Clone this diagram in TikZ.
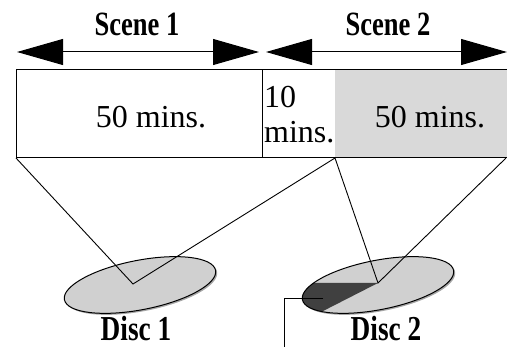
\documentclass[tikz,border=0pt]{standalone}
\usepackage{fontspec}
\setmainfont{Liberation Serif}
\newfontfamily\labelfont[FakeStretch=0.78]{Liberation Serif}
\usetikzlibrary{arrows.meta}
\definecolor{cellgrey}{HTML}{D9D9D9}
\definecolor{discgrey}{HTML}{D0D0D0}
\definecolor{sectorgrey}{HTML}{404040}
\tikzset{
  span/.style={line width=1pt, {Triangle[length=46pt,width=26pt]}-{Triangle[length=46pt,width=26pt]}},
  title/.style={font=\labelfont\bfseries\fontsize{34}{40}\selectfont, inner sep=0pt, text depth=0pt, anchor=base},
  minutes/.style={font=\fontsize{32}{35}\selectfont, inner sep=0pt},
  disc/.style={fill=discgrey},
  rim/.style={draw=black, line width=1pt},
  link/.style={line width=0.9pt}
}
\begin{document}
\begin{tikzpicture}[x=1pt,y=-1pt]
  \useasboundingbox (0,0) rectangle (507,347);
  % scenes
  \coordinate (start1) at (17,52);
  \coordinate (end1) at (259,52);
  \coordinate (start2) at (266,52);
  \coordinate (end2) at (507,52);
  \draw[span] (start1) -- (end1);
  \draw[span] (start2) -- (end2);
  \node[title] (scene1) at (137,36) {Scene 1};
  \node[title] (scene2) at (388,36) {Scene 2};
  % timeline
  \fill[cellgrey] (335,70) rectangle (508,158);
  \draw[line width=1pt] (16,158) -- (16,70) -- (508,70) (16,158) -- (508,158) (262,70) -- (262,158);
  \node[minutes, anchor=base] (first) at (151,128) {50 mins.};
  \node[minutes, anchor=base west, align=left] (gap) at (264,143) {10\\mins.};
  \node[minutes, anchor=base] (last) at (430,128) {50 mins.};
  % discs
  \coordinate (hub1) at (133,284);
  \coordinate (hub2) at (378,283);
  \foreach \cx in {140,378} {
    \fill[black!35, rotate around={11:(\cx+1.5,286.5)}] (\cx+1.5,286.5) ellipse [x radius=77, y radius=24.7];
    \fill[disc, rotate around={11:(\cx,285)}] (\cx,285) ellipse [x radius=77, y radius=24.7];
  }
  \begin{scope}
    \clip[rotate around={11:(378,285)}] (378,285) ellipse [x radius=77, y radius=24.7];
    \fill[sectorgrey] (hub2) -- (280,283) -- (280,333) -- cycle;
  \end{scope}
  \foreach \cx in {140,378}
    \draw[rim, rotate around={11:(\cx,285)}] (\cx,285) ellipse [x radius=77, y radius=24.7];
  \node[title, font=\labelfont\bfseries\fontsize{35}{40}\selectfont] (disc1) at (136,341) {Disc 1};
  \node[title, font=\labelfont\bfseries\fontsize{35}{40}\selectfont] (disc2) at (386,341) {Disc 2};
  % links
  \coordinate (corner1) at (16,158);
  \coordinate (corner2) at (335,158);
  \coordinate (corner3) at (506,158);
  \draw[link] (corner1) -- (hub1) -- (corner2) -- (hub2) -- (corner3);
  \coordinate (mark) at (323,298);
  \coordinate (foot) at (284,350);
  \draw[link] (mark) -| (foot);
\end{tikzpicture}
\end{document}
